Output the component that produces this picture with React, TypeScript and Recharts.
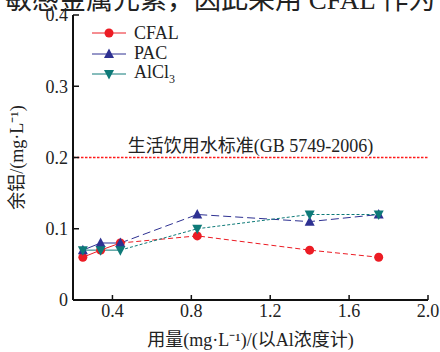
import React from 'react';
import { LineChart, Line, XAxis, YAxis, ReferenceLine } from 'recharts';

const doses = [0.25, 0.34, 0.44, 0.83, 1.4, 1.75];
const cfal = [0.06, 0.07, 0.08, 0.09, 0.07, 0.06];
const pac = [0.07, 0.08, 0.08, 0.12, 0.11, 0.12];
const alcl3 = [0.07, 0.07, 0.07, 0.1, 0.12, 0.12];
const xTicks = [0.4, 0.8, 1.2, 1.6, 2.0];
const yTicks = [0, 0.1, 0.2, 0.3, 0.4];
const standardLimit = 0.2;

const FONT = '"Liberation Serif", "Noto Sans CJK SC", serif';
const RED = '#ec1c24';
const BLUE = '#2e3192';
const TEAL = '#0e7a78';

// first segments are drawn solid, the rest dashed
const SOLID_END = 2;

const data = doses.map((d, i) => ({
  dose: d,
  cfal: cfal[i],
  pac: pac[i],
  alcl3: alcl3[i],
  cfalA: i <= SOLID_END ? cfal[i] : null,
  cfalB: i >= SOLID_END ? cfal[i] : null,
  pacA: i <= SOLID_END ? pac[i] : null,
  pacB: i >= SOLID_END ? pac[i] : null,
  alcl3A: i <= SOLID_END ? alcl3[i] : null,
  alcl3B: i >= SOLID_END ? alcl3[i] : null,
}));

const Marker = ({ shape, color, cx, cy }: any) => {
  if (cx == null || cy == null) return null;
  if (shape === 'circle') return <circle cx={cx} cy={cy} r={4.5} fill={color} />;
  if (shape === 'up')
    return <polygon points={`${cx},${cy - 5.5} ${cx - 5},${cy + 4} ${cx + 5},${cy + 4}`} fill={color} />;
  return <polygon points={`${cx - 5},${cy - 4} ${cx + 5},${cy - 4} ${cx},${cy + 5.5}`} fill={color} />;
};

const series = [
  { key: 'cfal', name: 'CFAL', color: RED, shape: 'circle', dash: '5 3' },
  { key: 'pac', name: 'PAC', color: BLUE, shape: 'up', dash: '8 4' },
  { key: 'alcl3', name: 'AlCl3', color: TEAL, shape: 'down', dash: '3 2' },
];

const LegendBox = () => (
  <div style={{ position: 'absolute', left: 92, top: 23, fontFamily: FONT, fontSize: 18, color: '#222' }}>
    {series.map((s) => (
      <div key={s.key} style={{ display: 'flex', alignItems: 'center', height: 20.5 }}>
        <svg width={34} height={14} style={{ marginRight: 8 }}>
          <line x1={0} y1={7} x2={34} y2={7} stroke={s.color} strokeWidth={1} />
          <Marker shape={s.shape} color={s.color} cx={17} cy={7} />
        </svg>
        {s.name === 'AlCl3' ? (
          <span>
            AlCl<sub style={{ fontSize: 12 }}>3</sub>
          </span>
        ) : (
          <span>{s.name}</span>
        )}
      </div>
    ))}
  </div>
);

const LimitLine = (p: any) => (
  <line x1={p.x1} y1={p.y1} x2={p.x2} y2={p.y2} stroke="#ff1a1a" strokeWidth={1.6} strokeDasharray="2.5 1.5" />
);

const App = () => {
  const tickStyle = { fill: '#222', fontSize: 18, fontFamily: FONT };
  return (
    <div style={{ position: 'absolute', left: 0, top: 0, width: 440, height: 352, background: '#fff', overflow: 'hidden' }}>
      <div
        style={{
          position: 'absolute',
          left: 5,
          top: -13,
          fontSize: 27,
          lineHeight: '27px',
          whiteSpace: 'nowrap',
          fontFamily: FONT,
          color: '#222',
        }}
      >
        敏感金属元素，因此采用 CFAL 作为
      </div>
      <LineChart width={440} height={352} data={data} margin={{ top: 15, right: 12, bottom: 22, left: 0 }}>
        <XAxis
          dataKey="dose"
          type="number"
          domain={[0.2, 2.0]}
          ticks={xTicks}
          tickFormatter={(v) => v.toFixed(1)}
          tick={tickStyle}
          height={30}
          tickSize={-5}
          tickMargin={9}
          axisLine={{ stroke: '#111', strokeWidth: 2 }}
          tickLine={{ stroke: '#111', strokeWidth: 1.5 }}
          label={{
            value: '用量(mg·L⁻¹)/(以Al浓度计)',
            position: 'insideBottom',
            offset: -16,
            style: { fill: '#222', fontSize: 18, fontFamily: FONT },
          }}
        />
        <YAxis
          type="number"
          domain={[0, 0.4]}
          ticks={yTicks}
          tickFormatter={(v) => (v === 0 ? '0' : v.toFixed(1))}
          tick={tickStyle}
          width={73}
          tickSize={-6}
          tickMargin={11}
          axisLine={{ stroke: '#111', strokeWidth: 2 }}
          tickLine={{ stroke: '#111', strokeWidth: 1.5 }}
          label={{
            value: '余铝/(mg·L⁻¹)',
            angle: -90,
            position: 'insideLeft',
            offset: 17,
            style: { fill: '#222', fontSize: 18, fontFamily: FONT, textAnchor: 'middle' },
          }}
        />
        <ReferenceLine
          y={standardLimit}
          stroke={RED}
          shape={LimitLine}
          label={{
            value: '生活饮用水标准(GB 5749-2006)',
            position: 'top',
            offset: 6,
            style: { fill: '#222', fontSize: 18, fontFamily: FONT },
          }}
        />
        {series.map((s) => (
          <Line
            key={s.key + 'A'}
            dataKey={s.key + 'A'}
            stroke={s.color}
            strokeWidth={1}
            dot={false}
            activeDot={false}
            isAnimationActive={false}
            legendType="none"
          />
        ))}
        {series.map((s) => (
          <Line
            key={s.key + 'B'}
            dataKey={s.key + 'B'}
            stroke={s.color}
            strokeWidth={1}
            strokeDasharray={s.dash}
            dot={false}
            activeDot={false}
            isAnimationActive={false}
            legendType="none"
          />
        ))}
        {series.map((s) => (
          <Line
            key={s.key}
            dataKey={s.key}
            name={s.name}
            stroke="none"
            dot={(p: any) => <Marker key={p.index} shape={s.shape} color={s.color} cx={p.cx} cy={p.cy} />}
            activeDot={false}
            isAnimationActive={false}
          />
        ))}
      </LineChart>
      <LegendBox />
    </div>
  );
};

export default App;
